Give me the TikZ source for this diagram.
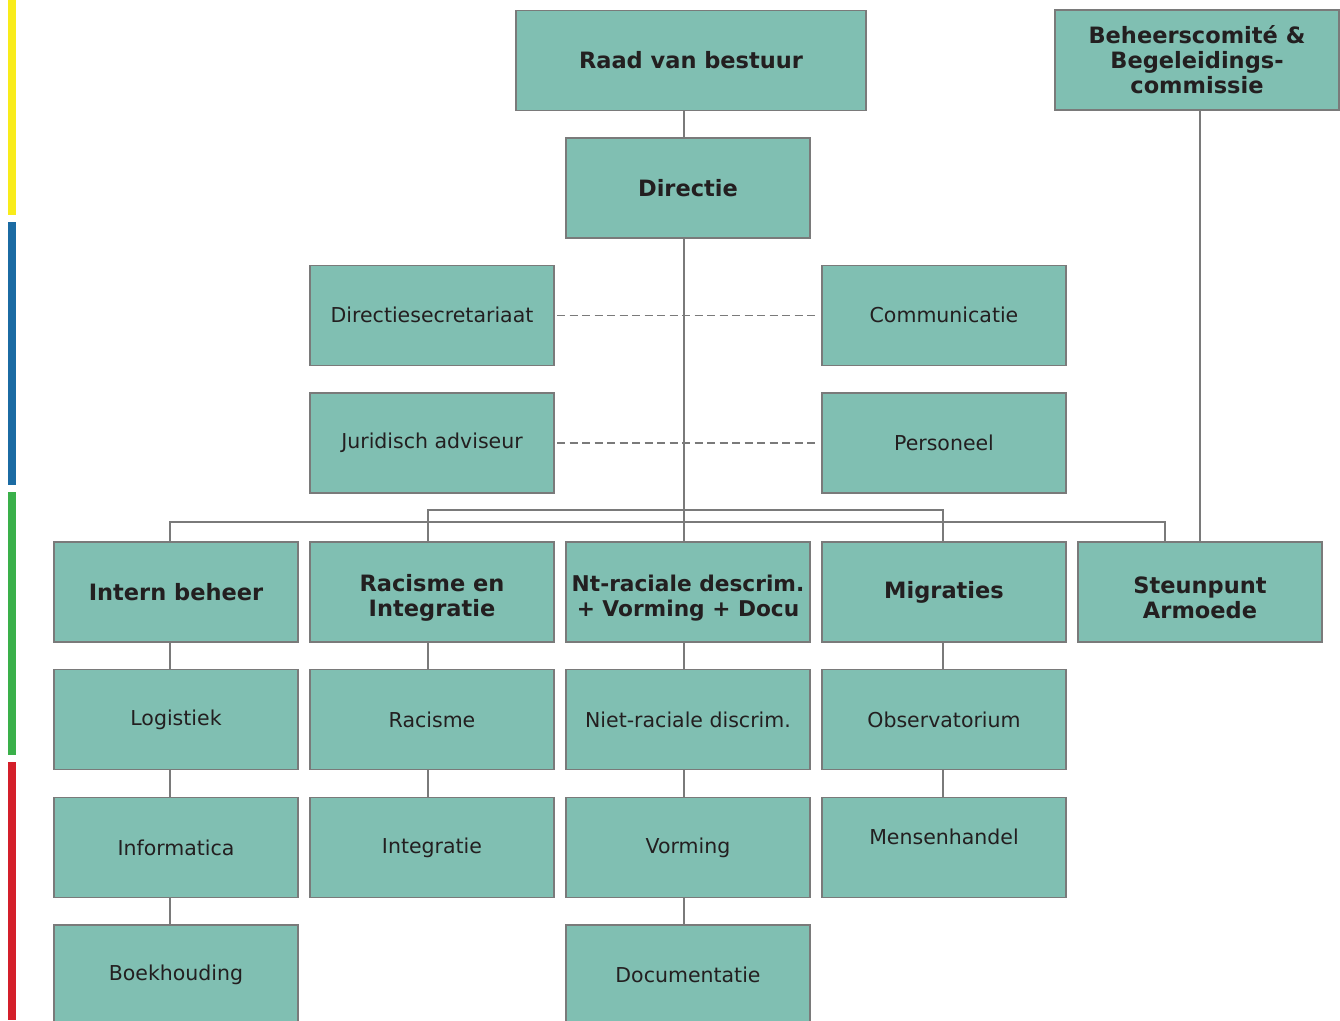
\documentclass[tikz,border=0pt]{standalone}
\usepackage{fontspec}
\setmainfont{DejaVu Sans}
\usepackage{tikz}
\usetikzlibrary{positioning,chains}
\definecolor{boxfill}{HTML}{80BFB2}
\definecolor{boxline}{HTML}{7A7A7A}
\definecolor{textdark}{HTML}{231F20}
\definecolor{barY}{HTML}{F9EC1A}
\definecolor{barB}{HTML}{1B6BA3}
\definecolor{barG}{HTML}{3AB04A}
\definecolor{barR}{HTML}{D41F2A}
\tikzstyle{unit}=[
	 rectangle, draw=boxline, line width=1.5pt,
	 fill=boxfill, text=textdark,
	 minimum width=244pt, minimum height=100pt,
	 inner sep=1pt, outer sep=0pt, align=center,
	 font=\fontsize{20.5}{25}\selectfont
    ]
\tikzstyle{head}=[unit, font=\fontsize{22.5}{25}\selectfont\bfseries]
\tikzstyle{link}=[draw=boxline, line width=1.3pt]
\tikzstyle{staff}=[link, line width=1.5pt, dash pattern=on 8pt off 4.5pt, shorten <=3pt, shorten >=6pt]
\newcommand{\pDown}[3][-4pt]{\draw[link] ([xshift=#1]#2.south) -- ([xshift=#1]#3.north)}
\newcommand{\topgap}{\rule{0pt}{28pt}}

\begin{document}
\begin{tikzpicture}[x=1pt,y=1pt,node distance=27.7pt and 12pt]
\useasboundingbox (0,0) rectangle (1340,-1020);
\clip (0,0) rectangle (1340,-1020);

% side bars
\fill[barY] (8,0) rectangle (16,-215);
\fill[barB] (8,-222) rectangle (16,-485);
\fill[barG] (8,-492) rectangle (16,-755);
\fill[barR] (8,-762) rectangle (16,-1020);

% top
\node[head] (Dir) at (688,-188) {Directie};
\node[head, minimum width=350pt, above=of Dir, xshift=3pt] (RvB) {Raad van bestuur};
\node[head, minimum width=284pt] (BC) at (1197,-60) {Beheerscomité \&\\Begeleidings-\\commissie};

% departments
\begin{scope}[start chain=going below]
\node[head,on chain] (A1) at (176,-592) {Intern beheer};
\node[unit,on chain] (A2) {Logistiek};
\node[unit,on chain] (A3) {Informatica};
\node[unit,on chain] (A4) {Boekhouding};
\end{scope}
\begin{scope}[start chain=going below]
\node[head,on chain,right=of A1] (B1) {\topgap Racisme en\\Integratie};
\node[unit,on chain] (B2) {Racisme};
\node[unit,on chain] (B3) {Integratie};
\end{scope}
\begin{scope}[start chain=going below]
\node[head,on chain,right=of B1,font=\fontsize{21.7}{25}\selectfont\bfseries] (C1) {\topgap Nt-raciale descrim.\\+ Vorming + Docu};
\node[unit,on chain] (C2) {Niet-raciale discrim.};
\node[unit,on chain] (C3) {Vorming};
\node[unit,on chain] (C4) {Documentatie};
\end{scope}
\begin{scope}[start chain=going below]
\node[head,on chain,right=of C1] (D1) {Migraties};
\node[unit,on chain] (D2) {Observatorium};
\node[unit,on chain] (D3) {\raisebox{22pt}{Mensenhandel}};
\end{scope}
\node[head,right=of D1] (E1) {\topgap Steunpunt\\Armoede};

% staff
\node[unit, above=49pt of B1] (S2) {Juridisch adviseur};
\node[unit, above=of S2] (S1) {Directiesecretariaat};
\node[unit, above=49pt of D1] (S4) {Personeel};
\node[unit, above=of S4] (S3) {Communicatie};

% lines
\draw[link] ([xshift=-4pt]RvB.south -| Dir.north) -- ([xshift=-4pt]Dir.north);
\draw[link] ([xshift=-4pt]Dir.south) -- ([xshift=-4pt]C1.north);
\draw[link] ([xshift=-6pt]A1.north) -- ++(0,20) -| ([xshift=-35pt]E1.north);
\draw[link] ([xshift=-4pt]B1.north) -- ++(0,32) -| ([xshift=-1pt]D1.north);
\draw[link] (E1.north |- BC.south) -- (E1.north);
\draw[staff] (S1.east) -- (S3.west);
\draw[staff] (S2.east) -- (S4.west);

\pDown[-6pt]{A1}{A2};
\pDown[-6pt]{A2}{A3};
\pDown[-6pt]{A3}{A4};
\pDown{B1}{B2};
\pDown{B2}{B3};
\pDown{C1}{C2};
\pDown{C2}{C3};
\pDown{C3}{C4};
\pDown[-1pt]{D1}{D2};
\pDown[-1pt]{D2}{D3};

\end{tikzpicture}
\end{document}
